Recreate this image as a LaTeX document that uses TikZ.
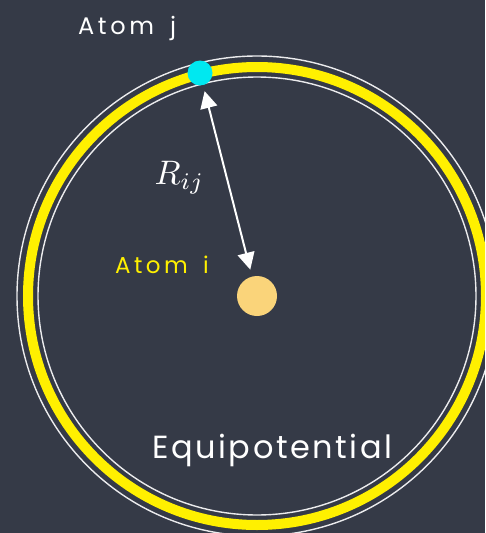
\documentclass[tikz,border=0pt]{standalone}
\usepackage{fontspec}
\setmainfont{Poppins}
\newfontfamily\chalkwide{Poppins}[LetterSpace=15, WordSpace=1.6]
\newfontfamily\chalkmid{Poppins}[LetterSpace=8]
\usetikzlibrary{arrows.meta, positioning}
\definecolor{board}{RGB}{53,58,71}
\definecolor{chalkyellow}{RGB}{255,240,0}
\definecolor{atomcyan}{RGB}{0,232,240}
\definecolor{atomorange}{RGB}{250,212,122}
\tikzset{
  atom/.style={circle, inner sep=0pt, minimum size=#1},
  ring/.style={white!90!board, line width=1.4pt},
  chalktext/.style={inner sep=0pt, anchor=base west}
}

\begin{document}
\begin{tikzpicture}[x=1pt, y=-1pt]
    \fill[board] (0,0) rectangle (485,533);
    \useasboundingbox (0,0) rectangle (485,533);
    % equipotential shell
    \begin{scope}
      \clip (0,0) rectangle (485,533);
      \draw[ring] (257,296) circle[radius=240pt];
      \draw[chalkyellow, line width=10pt] (257,296) circle[radius=229pt];
      \draw[ring] (257,296) circle[radius=219pt];
    \end{scope}
    % atoms
    \node[atom=40pt, fill=atomorange] (atomi) at (257,296) {};
    \node[atom=25pt, fill=atomcyan] (atomj) at (200,73) {};
    \draw[white, line width=2pt, {Triangle[length=17pt,width=17pt]}-{Triangle[length=17pt,width=17pt]},
      shorten <=6pt, shorten >=7pt] (atomj) -- (atomi);
    % labels
    \node[chalktext, white, scale=3.4] (rij) at (154,184) {$R_{ij}$};
    \node[chalktext, white, font=\chalkwide\fontsize{24}{27}\selectfont] (labelj) at (78,34) {Atom j};
    \node[chalktext, chalkyellow, font=\chalkwide\fontsize{23}{26}\selectfont] (labeli) at (115,273) {Atom i};
    \node[chalktext, white, font=\chalkmid\fontsize{32}{36}\selectfont] (equip) at (152,458) {Equipotential};
\end{tikzpicture}
\end{document}
